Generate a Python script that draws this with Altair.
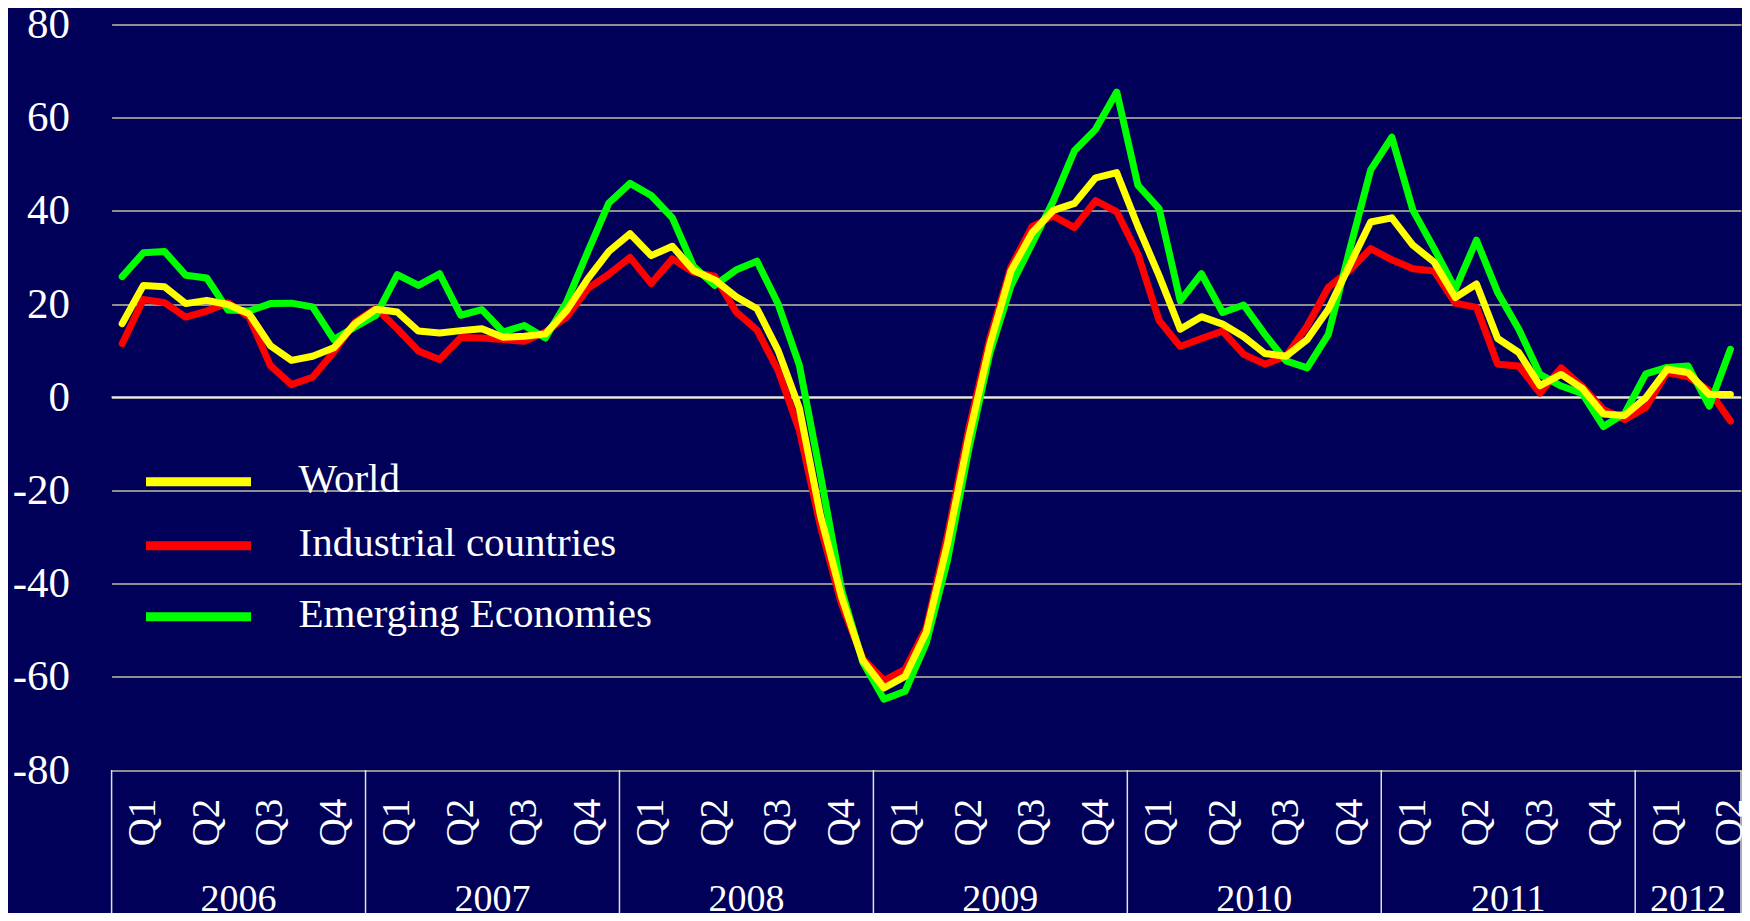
import altair as alt
import pandas as pd

# ---------------- data (monthly, Jan 2006 .. May 2012) ----------------
world = [
    15.8, 24.0, 23.7, 20.1, 20.8, 19.9, 17.9, 11.1, 7.9, 8.8, 10.6, 15.8,
    18.9, 18.3, 14.2, 13.8, 14.3, 14.7, 12.9, 13.1, 13.6, 18.6, 25.4, 31.3,
    35.1, 30.4, 32.4, 27.2, 25.2, 21.6, 19.0, 10.0, -2.3, -25.4, -42.9, -56.5,
    -62.4, -59.9, -50.4, -31.4, -8.7, 11.2, 27.1, 35.3, 40.1, 41.6, 47.1, 48.2,
    36.7, 26.1, 14.6, 17.3, 15.7, 13.0, 9.4, 8.8, 12.4, 18.9, 28.3, 37.6,
    38.5, 32.6, 29.0, 21.4, 24.3, 12.6, 9.6, 2.5, 4.9, 1.9, -3.6, -3.9,
    -0.1, 6.0, 5.3, 0.6, 0.6,
]
industrial = [
    11.5, 21.0, 20.3, 17.2, 18.5, 20.3, 17.2, 6.8, 2.7, 4.3, 9.7, 16.1,
    19.1, 14.7, 9.9, 8.1, 12.8, 12.7, 12.4, 12.0, 14.0, 17.2, 23.3, 26.4,
    30.0, 24.4, 29.7, 26.8, 26.0, 18.4, 14.4, 5.7, -7.1, -27.8, -44.5, -56.1,
    -60.8, -58.4, -49.5, -29.6, -6.9, 12.6, 28.0, 36.6, 38.9, 36.4, 42.2, 39.8,
    30.7, 16.5, 10.9, 12.6, 14.2, 9.2, 7.1, 8.8, 15.3, 23.6, 27.2, 31.9,
    29.5, 27.6, 27.1, 20.2, 19.3, 7.1, 6.7, 0.9, 6.3, 2.3, -2.6, -4.8,
    -2.2, 5.3, 4.4, 1.4, -5.1,
]
emerging = [
    25.9, 31.0, 31.3, 26.2, 25.6, 18.7, 18.5, 20.1, 20.2, 19.4, 12.4, 15.1,
    17.6, 26.3, 24.0, 26.5, 17.6, 18.8, 14.0, 15.4, 12.7, 20.4, 31.2, 41.7,
    45.9, 43.3, 38.5, 28.1, 24.0, 27.3, 29.2, 20.0, 6.9, -16.7, -41.4, -56.9,
    -64.8, -63.1, -52.7, -35.0, -11.4, 9.4, 23.9, 33.0, 42.1, 52.9, 57.5, 65.5,
    45.5, 40.5, 20.7, 26.5, 18.2, 19.8, 13.5, 7.8, 6.3, 13.5, 31.5, 48.8,
    55.8, 40.1, 31.9, 23.2, 33.7, 22.5, 14.6, 4.9, 2.4, 0.8, -6.3, -3.5,
    5.0, 6.4, 6.7, -1.9, 10.3,
]
series_names = ["World", "Industrial countries", "Emerging Economies"]
series_colors = ["#FFFF00", "#FF0000", "#00FF00"]
quarter_labels = ["Q1", "Q2", "Q3", "Q4"]
year_labels = ["2006", "2007", "2008", "2009", "2010", "2011", "2012"]
y_ticks = [-80, -60, -40, -20, 0, 20, 40, 60, 80]

# ---------------- layout constants ----------------
BG = "#000058"
FONT = "Liberation Serif"
W, H = 1629.4, 745.5
PAD = {"left": 103.6, "top": 16.5, "right": 1, "bottom": 143}
n = len(world)

xscale = alt.Scale(domain=[-0.5, n - 0.5], nice=False, zero=False)
yscale = alt.Scale(domain=[y_ticks[0], y_ticks[-1]], nice=False, zero=False)
yaxis = alt.Axis(
    values=y_ticks, labelFont=FONT, labelFontSize=43, labelColor="white",
    labelPadding=42, ticks=False, tickSize=0, domain=False,
    grid=True, gridColor="#8f8f8f", gridWidth=2, title=None,
    labelExpr="datum.value + ''",
)

series_df = {
    name: pd.DataFrame({"m": list(range(n)), "v": vals})
    for name, vals in zip(series_names, [world, industrial, emerging])
}

# gridlines / y axis
grid = alt.Chart(pd.DataFrame({"v": y_ticks})).mark_rule(opacity=0).encode(
    y=alt.Y("v:Q", scale=yscale, axis=yaxis, title=None)
)
zero = alt.Chart(pd.DataFrame({"v": [0]})).mark_rule(color="#e8e8e8", strokeWidth=2).encode(
    y=alt.Y("v:Q", scale=yscale, axis=yaxis, title=None)
)

def line_layer(name, color):
    return alt.Chart(series_df[name]).mark_line(
        color=color, strokeWidth=7, strokeJoin="round", strokeCap="round"
    ).encode(
        x=alt.X("m:Q", scale=xscale, axis=None, title=None),
        y=alt.Y("v:Q", scale=yscale, axis=yaxis, title=None),
    )

lines = [
    line_layer("Industrial countries", "#FF0000"),
    line_layer("Emerging Economies", "#00FF00"),
    line_layer("World", "#FFFF00"),
]

# category axis box
bounds = [12 * k - 0.5 for k in range(len(year_labels))] + [n - 0.5]
div_df = pd.DataFrame({"b": bounds})
dividers = alt.Chart(div_df).mark_rule(color="#e0e0e0", strokeWidth=1.5).encode(
    x=alt.X("b:Q", scale=xscale, axis=None, title=None),
    y=alt.value(H), y2=alt.value(H + PAD["bottom"]),
)

nq = (n + 2) // 3
q_df = pd.DataFrame({
    "qx": [3 * q + 1 for q in range(nq)],
    "ql": [quarter_labels[q % 4] for q in range(nq)],
})
qtext = alt.Chart(q_df).mark_text(
    angle=270, font=FONT, fontSize=39, color="white", align="center", baseline="middle"
).encode(
    x=alt.X("qx:Q", scale=xscale, axis=None, title=None),
    y=alt.value(798), text="ql:N",
)

y_df = pd.DataFrame({
    "yx": [(bounds[k] + bounds[k + 1]) / 2 for k in range(len(year_labels))],
    "yl": year_labels,
})
ytext = alt.Chart(y_df).mark_text(
    font=FONT, fontSize=38, color="white", align="center", baseline="middle"
).encode(
    x=alt.X("yx:Q", scale=xscale, axis=None, title=None),
    y=alt.value(875), text="yl:N",
)

# legend (manual, as in the original slide)
leg_layers = []
leg_y = [457.2, 521.2, 592.2]
for name, color, ly in zip(series_names, series_colors, leg_y):
    d = pd.DataFrame({"s": [name]})
    leg_layers.append(
        alt.Chart(d).mark_rule(color=color, strokeWidth=9).encode(
            x=alt.value(34.4), x2=alt.value(139.4), y=alt.value(ly)
        )
    )
    leg_layers.append(
        alt.Chart(d).mark_text(
            font=FONT, fontSize=41, color="white", align="left", baseline="middle"
        ).encode(x=alt.value(186.9), y=alt.value(ly - 2), text="s:N")
    )

chart = alt.layer(
    grid, zero, *lines, dividers, qtext, ytext, *leg_layers
).properties(
    width=W, height=H, padding=PAD, background=BG,
    autosize=alt.AutoSizeParams(type="none"),
).configure_view(stroke=None)

chart.save("out.html", embed_options={"renderer": "svg", "actions": False})
